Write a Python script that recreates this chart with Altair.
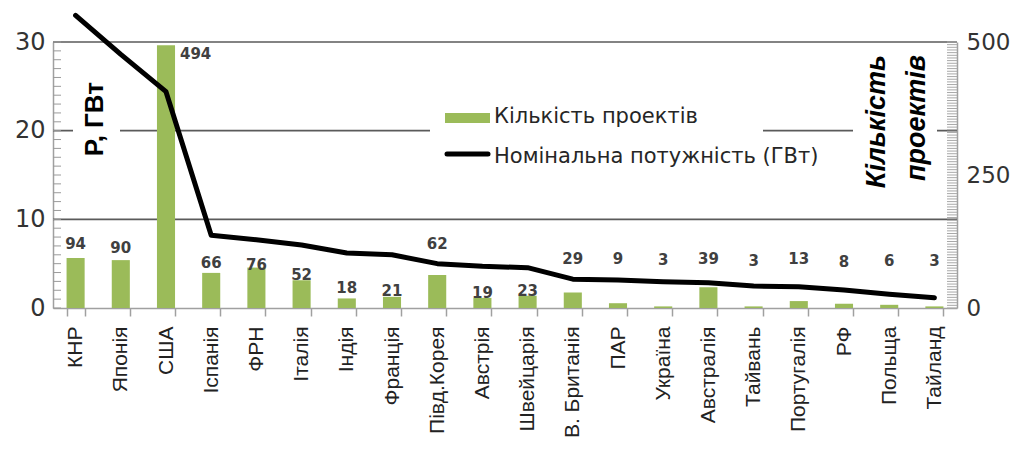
import altair as alt
import pandas as pd

countries = ["КНР", "Японія", "США", "Іспанія", "ФРН", "Італія", "Індія", "Франція",
             "Півд.Корея", "Австрія", "Швейцарія", "В. Британія", "ПАР", "Україна",
             "Австралія", "Тайвань", "Португалія", "РФ", "Польща", "Тайланд"]
projects = [94, 90, 494, 66, 76, 52, 18, 21, 62, 19, 23, 29, 9, 3, 39, 3, 13, 8, 6, 3]
power_gw = [33.0, 28.6, 24.4, 8.2, 7.7, 7.1, 6.2, 6.0, 5.0, 4.7, 4.55, 3.25, 3.15, 2.97,
            2.86, 2.48, 2.4, 2.03, 1.54, 1.16]
# height (in project-count units) at which each count label sits
label_at = [120, 113, 477, 85, 81, 62, 38, 32, 121, 29, 32, 92, 92, 90, 92, 88, 92, 86, 88, 88]

left_ticks = [0, 10, 20, 30]
right_ticks = [0, 250, 500]
grid_values = [10, 20, 30]
left_minor = list(range(0, 31))
right_minor = list(range(0, 501, 5))

W, H = 904, 266
GREEN = "#9BBB59"
GRID = "#5a5a5a"
AXIS = "#a0a0a0"

df = pd.DataFrame({"country": countries, "projects": projects,
                   "power": power_gw, "label_at": label_at})
one = pd.DataFrame({"_": [0]})

x_scale = alt.Scale(type="band", domain=countries, paddingInner=0.6, paddingOuter=0.3)
y_gw = alt.Scale(domain=[0, 30], nice=False, zero=True)
y_cnt = alt.Scale(domain=[0, 500], nice=False, zero=True)

x_axis = alt.Axis(labelAngle=-90, labelFont="Liberation Sans", labelFontSize=21,
                  labelColor="#222222", tickBand="extent", tickSize=8, tickColor=AXIS,
                  tickWidth=1.5, domainColor=AXIS, domainWidth=1.5, labelPadding=10,
                  labelOverlap=False, labelLimit=300, title=None)
# the same axis definition on every layer that uses the x field, so they merge
x_enc = alt.X("country:N", scale=x_scale, sort=countries, axis=x_axis)

left_axis = alt.Axis(orient="left", values=left_ticks, labelFont="DejaVu Sans",
                     labelFontSize=24, labelColor="#333333", ticks=False,
                     labelPadding=8, domainColor=AXIS, domainWidth=1.5, grid=False,
                     title=None)
right_axis = alt.Axis(orient="right", values=right_ticks, labelFont="DejaVu Sans",
                      labelFontSize=23, labelColor="#333333", ticks=False,
                      labelPadding=9, domainColor=AXIS, domainWidth=1.5, grid=False,
                      title=None)

# ---- grid (GW scale) with left axis
grid = alt.Chart(pd.DataFrame({"v": grid_values})).mark_rule(
    color=GRID, strokeWidth=1.6).encode(
    y=alt.Y("v:Q", scale=y_gw, axis=left_axis),
    x=alt.value(0), x2=alt.value(W))
lminor = alt.Chart(pd.DataFrame({"v": left_minor})).mark_rule(
    color="#9a9a9a", strokeWidth=1).encode(
    y=alt.Y("v:Q", scale=y_gw, axis=None), x=alt.value(0), x2=alt.value(8))


# ---- white masks interrupting the 20 GW grid line
def mask(x0, x1):
    return alt.Chart(one).mark_rect(color="white").encode(
        x=alt.value(x0), x2=alt.value(x1), y=alt.value(80), y2=alt.value(95))


masks = [mask(20, 67), mask(377, 710), mask(800, 884)]

# ---- project-count layers
bars = alt.Chart(df).mark_bar(color=GREEN).encode(
    x=x_enc, y=alt.Y("projects:Q", scale=y_cnt, axis=right_axis))
lab_style = dict(font="DejaVu Sans", fontSize=15, fontWeight="bold", color="#404040",
                 baseline="middle")
bar_labels = alt.Chart(df).transform_filter("datum.projects < 400").mark_text(
    align="center", **lab_style).encode(
    x=x_enc, y=alt.Y("label_at:Q", scale=y_cnt, axis=None), text="projects:Q")
big_label = alt.Chart(df).transform_filter("datum.projects >= 400").mark_text(
    align="left", dx=14, **lab_style).encode(
    x=x_enc, y=alt.Y("label_at:Q", scale=y_cnt, axis=None), text="projects:Q")
rminor = alt.Chart(pd.DataFrame({"v": right_minor})).mark_rule(
    color="#a8a8a8", strokeWidth=1).encode(
    y=alt.Y("v:Q", scale=y_cnt, axis=None), x=alt.value(W - 10), x2=alt.value(W))

# ---- power line
line = alt.Chart(df).mark_line(color="black", strokeWidth=5, strokeCap="round",
                               strokeJoin="round").encode(
    x=x_enc, y=alt.Y("power:Q", scale=y_gw, axis=None))

# ---- legend
leg_font = dict(font="DejaVu Sans", fontSize=21, color="#262626", align="left",
                baseline="middle")
leg_sw1 = alt.Chart(one).mark_rect(color=GREEN).encode(
    x=alt.value(392), x2=alt.value(437), y=alt.value(71), y2=alt.value(81))
leg_sw2 = alt.Chart(one).mark_rule(color="black", strokeWidth=5, strokeCap="round").encode(
    x=alt.value(394), x2=alt.value(435), y=alt.value(112))
leg_t1 = alt.Chart(one).mark_text(text="Кількість проектів", **leg_font).encode(
    x=alt.value(441), y=alt.value(75))
leg_t2 = alt.Chart(one).mark_text(text="Номінальна потужність (ГВт)", **leg_font).encode(
    x=alt.value(441), y=alt.value(115))

# ---- axis titles
t_left = alt.Chart(one).mark_text(text="P, ГВт", angle=270, align="right",
                                  baseline="middle", font="Liberation Sans",
                                  fontSize=26, fontWeight="bold", color="black").encode(
    x=alt.value(42), y=alt.value(40))
t_r1 = alt.Chart(one).mark_text(text="Кількість", angle=270, align="right",
                                baseline="middle", font="Liberation Sans", fontSize=27,
                                fontWeight="bold", fontStyle="italic", color="black").encode(
    x=alt.value(824), y=alt.value(13))
t_r2 = alt.Chart(one).mark_text(text="проектів", angle=270, align="right",
                                baseline="middle", font="Liberation Sans", fontSize=27,
                                fontWeight="bold", fontStyle="italic", color="black").encode(
    x=alt.value(864), y=alt.value(13))

chart = alt.layer(
    grid, lminor, *masks, bars, bar_labels, big_label, rminor, line,
    leg_sw1, leg_sw2, leg_t1, leg_t2, t_left, t_r1, t_r2
).resolve_scale(y="independent").properties(
    width=W, height=H,
    padding={"left": 45, "top": 34, "right": 54, "bottom": 136},
    autosize=alt.AutoSizeParams(type="none"),
).configure_view(stroke=None)

chart.save("out.html", embed_options={"renderer": "svg", "actions": False})
